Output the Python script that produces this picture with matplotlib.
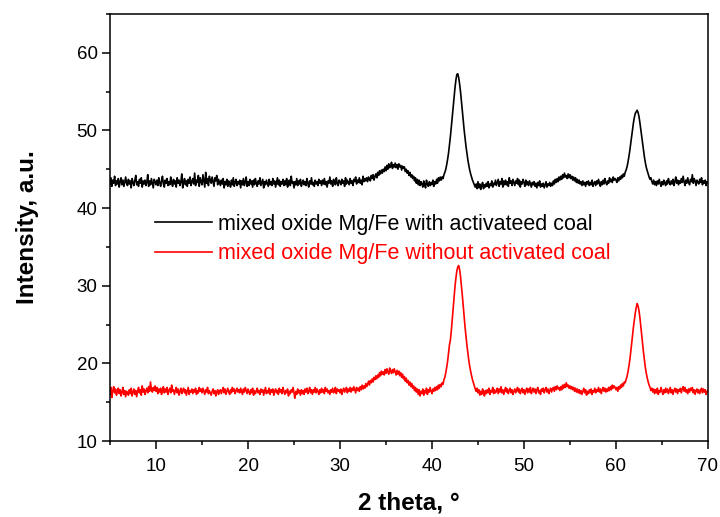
import numpy as np
import matplotlib
matplotlib.use("Agg")
import matplotlib.pyplot as plt
from matplotlib.ticker import MultipleLocator

plt.rcParams['font.family'] = ['Liberation Sans', 'DejaVu Sans']

# XRD scan grid: 5 to 70 degrees 2-theta, step 0.1
scan_start = 5.0
scan_step = 0.1

# Mg/Fe mixed oxide + activated coal (one row per degree)
with_coal = [
    43.0, 43.9, 42.8, 43.6, 43.2, 44.1, 42.9, 43.5, 43.1, 43.8,
    42.7, 43.4, 43.9, 43.0, 43.6, 42.8, 43.3, 44.0, 43.2, 42.9,
    43.7, 43.1, 43.5, 42.6, 43.8, 43.3, 42.9, 43.6, 44.2, 43.0,
    43.4, 42.8, 43.7, 43.2, 43.9, 42.7, 43.5, 43.1, 43.6, 42.9,
    43.3, 44.3, 42.8, 43.5, 43.0, 43.8, 43.2, 42.6, 43.7, 43.4,
    43.0, 43.6, 42.9, 43.9, 43.3, 42.8, 43.5, 44.1, 43.1, 42.7,
    43.6, 43.2, 43.8, 42.9, 43.4, 43.0, 44.0, 43.3, 42.8, 43.7,
    43.1, 43.5, 42.7, 43.9, 43.2, 43.6, 42.9, 43.4, 44.4, 42.6,
    43.3, 43.8, 43.0, 43.5, 42.8, 43.7, 43.2, 44.0, 42.9, 43.4,
    43.8, 43.1, 44.5, 42.9, 43.6, 43.3, 44.2, 42.8, 43.9, 43.4,
    43.0, 44.3, 43.5, 42.7, 44.6, 43.2, 43.8, 42.9, 44.1, 43.6,
    43.2, 44.0, 43.4, 42.8, 43.9, 43.5, 44.2, 43.0, 43.7, 43.3,
    42.9, 43.6, 43.1, 43.8, 42.6, 43.4, 43.0, 43.7, 42.8, 43.5,
    43.2, 42.7, 43.6, 43.0, 43.9, 42.8, 43.3, 43.7, 42.9, 43.4,
    43.1, 43.6, 42.6, 43.5, 43.0, 43.8, 42.9, 43.3, 44.0, 42.8,
    43.4, 42.9, 43.7, 43.1, 43.5, 42.7, 43.6, 43.0, 43.8, 43.2,
    42.8, 43.5, 43.1, 43.9, 42.9, 43.3, 43.7, 42.6, 43.4, 43.0,
    43.6, 43.2, 42.8, 43.7, 43.0, 43.4, 42.9, 43.8, 43.1, 43.5,
    42.7, 43.3, 43.9, 43.0, 43.6, 42.8, 43.4, 43.1, 43.7, 42.9,
    43.5, 43.0, 43.8, 42.7, 43.3, 43.6, 42.9, 44.1, 43.2, 43.4,
    42.6, 43.4, 43.0, 43.8, 42.9, 43.5, 43.1, 43.7, 42.8, 43.3,
    43.6, 43.0, 43.4, 42.9, 43.8, 43.2, 42.7, 43.5, 43.1, 43.9,
    43.0, 43.3, 42.8, 43.6, 43.1, 43.4, 42.9, 43.7, 43.2, 43.5,
    42.9, 43.6, 43.1, 43.8, 43.0, 43.4, 42.7, 43.5, 43.2, 44.0,
    43.1, 43.5, 42.8, 43.7, 43.3, 43.0, 43.9, 43.2, 42.9, 43.6,
    43.4, 43.0, 43.7, 43.2, 43.5, 42.8, 43.9, 43.1, 43.6, 43.3,
    43.0, 43.8, 43.2, 43.5, 42.9, 43.7, 43.4, 44.0, 43.1, 43.6,
    43.3, 43.9, 43.2, 43.6, 43.0, 44.1, 43.4, 43.8, 43.5, 43.9,
    43.4, 44.0, 43.7, 43.5, 44.2, 43.8, 44.3, 43.6, 44.1, 44.4,
    43.9, 44.6, 44.2, 44.8, 44.4, 44.9, 44.5, 45.0, 44.7, 45.3,
    44.8, 45.5, 45.0, 45.7, 45.2, 45.4, 45.9, 45.1, 45.6, 45.3,
    45.8, 45.2, 45.6, 45.0, 45.7, 45.3, 45.5, 44.9, 45.4, 45.1,
    45.3, 44.7, 45.0, 44.5, 44.8, 44.2, 44.6, 44.0, 44.3, 43.8,
    44.1, 43.5, 43.9, 43.2, 43.7, 43.0, 43.6, 42.9, 43.4, 43.1,
    42.7, 43.5, 43.0, 42.6, 43.6, 43.1, 42.8, 43.4, 42.9, 43.3,
    43.0, 43.6, 42.8, 43.4, 43.1, 43.7, 43.2, 43.9, 43.5, 44.0,
    43.6, 44.0, 43.8, 44.3, 44.6, 45.0, 45.6, 46.3, 47.1, 48.1,
    49.2, 50.4, 51.7, 53.0, 54.3, 55.5, 56.5, 57.2, 57.3, 56.8,
    56.0, 55.0, 53.8, 52.5, 51.2, 50.0, 48.9, 47.9, 47.0, 46.2,
    45.5, 44.9, 44.4, 44.0, 43.6, 43.3, 43.0, 42.7, 43.1, 42.5,
    43.4, 42.6, 43.1, 42.4, 42.9, 43.3, 42.5, 43.0, 42.7, 43.2,
    42.8, 43.4, 42.6, 43.1, 42.9, 43.5, 42.7, 43.2, 43.0, 43.6,
    42.9, 43.3, 43.7, 42.8, 43.4, 43.1, 43.8, 42.7, 43.5, 43.0,
    43.6, 43.0, 43.4, 42.8, 43.9, 43.2, 43.5, 42.9, 43.7, 43.3,
    42.9, 43.5, 43.2, 43.8, 43.0, 43.6, 42.7, 43.4, 43.1, 43.7,
    43.3, 42.8, 43.6, 43.0, 43.4, 42.9, 43.5, 43.1, 42.7, 43.3,
    43.0, 43.4, 42.8, 43.2, 42.6, 43.3, 42.9, 43.5, 42.7, 43.1,
    42.8, 43.2, 42.6, 43.0, 43.4, 42.7, 43.1, 42.9, 43.3, 42.8,
    43.2, 42.9, 43.5, 43.1, 43.7, 43.3, 43.8, 43.4, 44.0, 43.6,
    44.1, 43.7, 44.3, 43.9, 44.5, 44.0, 44.2, 43.8, 44.4, 43.9,
    44.3, 43.8, 44.1, 43.6, 44.0, 43.5, 43.9, 43.3, 43.7, 43.2,
    43.6, 43.1, 43.4, 42.9, 43.5, 43.0, 43.3, 42.8, 43.4, 43.1,
    43.5, 42.9, 43.3, 43.0, 43.6, 42.8, 43.2, 43.4, 42.9, 43.5,
    43.1, 43.7, 43.2, 42.8, 43.4, 43.0, 43.6, 43.1, 43.8, 43.3,
    43.0, 43.5, 43.2, 43.9, 43.4, 43.7, 43.3, 44.0, 43.6, 43.8,
    43.6, 43.3, 43.9, 43.5, 44.0, 43.7, 44.2, 43.9, 44.4, 44.1,
    44.6, 44.9, 45.3, 45.9, 46.6, 47.4, 48.3, 49.3, 50.2, 51.0,
    51.7, 52.2, 52.4, 52.6, 52.3, 51.8, 51.0, 50.1, 49.1, 48.2,
    47.3, 46.5, 45.8, 45.2, 44.8, 44.4, 44.0, 43.7, 43.9, 43.4,
    43.1, 43.6, 43.0, 43.4, 42.9, 43.5, 43.1, 43.7, 43.2, 42.8,
    43.4, 43.0, 43.6, 43.2, 42.9, 43.5, 43.1, 43.8, 43.3, 43.0,
    43.5, 43.1, 43.7, 42.9, 43.4, 44.0, 43.2, 43.6, 43.0, 43.5,
    43.2, 43.8, 43.3, 44.1, 43.4, 42.9, 43.6, 43.2, 43.9, 43.3,
    43.0, 43.7, 43.4, 44.3, 43.2, 43.8, 43.5, 42.9, 43.6, 43.3,
    43.1, 43.7, 43.3, 43.9, 43.0, 43.5, 43.2, 43.6, 42.9, 43.4,
    43.3,
]

# Mg/Fe mixed oxide alone
without_coal = [
    16.0, 16.9, 15.6, 16.5, 17.0, 16.2, 16.7, 15.9, 16.4, 16.8,
    16.1, 16.6, 15.8, 16.3, 16.9, 16.0, 16.5, 15.7, 16.4, 16.2,
    15.9, 16.6, 16.1, 16.8, 15.8, 16.3, 16.7, 16.0, 16.5, 15.7,
    16.4, 16.9, 16.2, 16.6, 15.9, 17.1, 16.3, 16.7, 16.0, 16.5,
    16.8, 16.2, 17.0, 16.4, 17.6, 16.6, 16.3, 16.9, 16.5, 17.1,
    16.4, 16.9, 16.1, 16.7, 16.3, 16.8, 16.0, 16.6, 17.0, 16.2,
    16.7, 16.3, 16.9, 16.0, 16.5, 16.8, 16.2, 17.2, 16.4, 16.6,
    16.0, 16.5, 16.9, 16.2, 16.7, 15.9, 16.4, 16.8, 16.1, 16.5,
    16.8, 16.2, 16.6, 15.9, 16.4, 16.9, 16.0, 16.5, 16.3, 16.7,
    16.1, 16.6, 16.3, 16.8, 16.0, 16.5, 16.2, 16.9, 16.4, 16.7,
    16.2, 16.8, 16.4, 16.0, 16.6, 16.3, 16.9, 16.1, 16.5, 16.2,
    15.9, 16.4, 16.7, 16.1, 16.5, 15.8, 16.3, 16.6, 16.0, 16.4,
    16.6, 16.1, 16.5, 16.9, 16.2, 16.7, 16.0, 16.4, 16.8, 16.3,
    16.0, 16.6, 16.2, 16.9, 16.4, 16.7, 16.1, 16.5, 16.8, 16.3,
    16.6, 16.2, 16.8, 16.4, 16.0, 16.7, 16.3, 16.9, 16.5, 16.1,
    16.7, 16.3, 16.0, 16.6, 16.2, 16.8, 15.9, 16.5, 16.1, 16.4,
    16.8, 16.2, 16.5, 16.0, 16.7, 16.3, 16.6, 15.9, 16.4, 16.9,
    16.1, 16.5, 16.2, 16.8, 16.0, 16.6, 16.3, 16.7, 15.9, 16.4,
    16.7, 16.2, 16.5, 16.0, 16.8, 16.3, 16.6, 16.1, 16.9, 16.4,
    16.0, 16.5, 16.2, 16.7, 15.8, 16.4, 16.1, 16.6, 16.3, 16.9,
    16.2, 15.5, 16.4, 16.0, 16.7, 16.2, 16.5, 15.9, 16.6, 16.1,
    16.5, 16.0, 16.7, 16.3, 16.8, 16.1, 16.4, 16.9, 16.2, 16.6,
    16.0, 16.6, 16.3, 16.9, 16.2, 16.7, 16.4, 16.0, 16.6, 16.2,
    16.8, 16.3, 16.6, 16.1, 16.9, 16.4, 16.7, 16.2, 16.5, 16.0,
    16.6, 16.3, 16.8, 16.2, 16.5, 16.9, 16.1, 16.7, 16.4, 16.6,
    16.2, 16.7, 16.0, 16.5, 16.8, 16.3, 16.6, 16.9, 16.2, 16.7,
    16.4, 16.9, 16.3, 16.8, 16.5, 17.0, 16.6, 16.2, 16.9, 16.5,
    16.8, 16.4, 17.0, 16.6, 17.2, 16.7, 17.1, 16.8, 17.4, 17.0,
    17.3, 17.7, 17.2, 17.8, 17.5, 18.0, 17.6, 18.2, 17.9, 18.4,
    18.0, 18.5, 18.2, 18.8, 18.4, 19.0, 18.6, 18.9, 18.5, 19.2,
    18.7, 19.3, 18.9, 18.6, 19.4, 19.0, 18.7, 19.2, 18.8, 19.3,
    18.9, 18.5, 19.1, 18.6, 19.0, 18.4, 18.8, 18.2, 18.6, 18.0,
    18.3, 17.7, 18.1, 17.5, 17.8, 17.2, 17.6, 17.0, 17.4, 16.8,
    17.1, 16.5, 16.9, 16.3, 16.7, 16.0, 16.6, 15.8, 16.4, 16.1,
    16.7, 15.9, 16.5, 16.2, 16.8, 16.0, 16.6, 16.3, 16.9, 16.4,
    16.1, 16.7, 16.4, 16.9, 16.5, 17.0, 16.6, 17.2, 16.8, 17.3,
    17.0, 17.5, 17.3, 17.9, 18.2, 18.8, 19.5, 20.3, 21.3, 22.4,
    23.0, 24.2, 25.6, 27.0, 28.5, 29.9, 31.0, 31.9, 32.4, 32.6,
    32.1, 31.2, 30.0, 28.7, 27.3, 25.9, 24.6, 23.4, 22.3, 21.3,
    20.4, 19.6, 19.0, 18.4, 17.9, 17.5, 17.1, 16.7, 16.4, 16.8,
    16.2, 16.6, 15.9, 16.4, 16.0, 16.7, 16.3, 15.8, 16.5, 16.1,
    16.6, 16.2, 16.8, 16.0, 16.5, 16.3, 16.9, 16.1, 16.6, 16.2,
    16.4, 16.8, 16.1, 16.7, 16.3, 17.0, 16.2, 16.6, 16.0, 16.5,
    16.9, 16.3, 16.7, 16.1, 16.5, 16.8, 16.2, 16.6, 16.0, 16.4,
    16.7, 16.2, 16.6, 16.9, 16.3, 16.7, 16.1, 16.5, 16.8, 16.2,
    16.6, 16.0, 16.5, 16.8, 16.2, 16.7, 16.3, 16.9, 16.1, 16.5,
    16.8, 16.3, 16.7, 16.1, 16.6, 16.9, 16.2, 16.5, 16.0, 16.7,
    16.4, 16.8, 16.2, 16.6, 16.9, 16.3, 16.7, 16.1, 16.5, 16.8,
    16.3, 16.7, 16.9, 16.4, 17.0, 16.6, 17.1, 16.7, 16.9, 16.5,
    17.0, 16.6, 17.2, 16.8, 17.3, 16.9, 17.5, 17.0, 17.2, 16.8,
    17.1, 16.7, 17.0, 16.6, 16.9, 16.4, 16.8, 16.3, 16.7, 16.2,
    16.6, 16.1, 16.5, 16.0, 16.4, 16.8, 16.2, 16.6, 15.9, 16.4,
    16.1, 16.6, 16.2, 16.7, 16.0, 16.5, 16.3, 16.8, 16.2, 16.6,
    16.4, 16.9, 16.3, 16.7, 16.1, 16.6, 16.9, 16.4, 16.8, 16.3,
    16.7, 16.4, 16.9, 16.5, 17.0, 16.6, 17.2, 16.8, 17.1, 16.9,
    16.6, 16.9, 16.4, 17.0, 16.7, 17.2, 16.9, 17.4, 17.1, 17.6,
    17.5, 17.9, 18.3, 18.9, 19.6, 20.4, 21.4, 22.5, 23.6, 24.7,
    25.6, 26.5, 27.2, 27.7, 27.4, 26.8, 25.9, 24.8, 23.6, 22.4,
    21.3, 20.3, 19.4, 18.7, 18.1, 17.6, 17.2, 16.9, 16.5, 16.8,
    16.3, 16.7, 16.1, 16.6, 16.2, 16.8, 16.0, 16.5, 16.3, 16.9,
    16.4, 16.0, 16.6, 16.2, 16.8, 16.3, 16.7, 16.1, 16.5, 16.9,
    16.2, 16.6, 16.0, 16.5, 16.8, 16.3, 16.7, 16.1, 16.6, 16.4,
    16.8, 16.2, 16.7, 17.0, 16.4, 16.9, 16.3, 16.6, 16.1, 16.7,
    16.3, 16.8, 16.5, 16.9, 16.2, 16.6, 16.0, 16.5, 16.7, 16.2,
    16.6, 16.1, 16.5, 16.8, 16.2, 16.7, 16.3, 16.6, 16.0, 16.4,
    16.5,
]

labels = ["mixed oxide Mg/Fe with activateed coal",
          "mixed oxide Mg/Fe without activated coal"]
colors = ["black", "#ff0000"]

two_theta = scan_start + scan_step * np.arange(len(with_coal))

fig = plt.figure(figsize=(7.2, 5.17), dpi=100)
ax = fig.add_axes([0.1528, 0.147, 0.8305, 0.826])

ax.plot(two_theta, with_coal, color=colors[0], linewidth=1.2, label=labels[0])
ax.plot(two_theta, without_coal, color=colors[1], linewidth=1.2, label=labels[1])

ax.set_xlim(5, 70)
ax.set_ylim(10, 65)
ax.xaxis.set_major_locator(MultipleLocator(10))
ax.xaxis.set_minor_locator(MultipleLocator(5))
ax.yaxis.set_major_locator(MultipleLocator(10))
ax.yaxis.set_minor_locator(MultipleLocator(5))

ax.tick_params(which='both', direction='out', width=1.1, top=False, right=False)
ax.tick_params(which='major', length=6, labelsize=13.5)
ax.tick_params(axis='x', which='major', pad=6)
ax.tick_params(axis='y', which='major', pad=3)
ax.tick_params(which='minor', length=3)
for sp in ax.spines.values():
    sp.set_linewidth(1.1)

ax.set_xlabel("2 theta, \u00b0", fontsize=17.5, fontweight='bold', labelpad=12)
ax.set_ylabel("Intensity, a.u.", fontsize=17.5, fontweight='bold', labelpad=27)

ax.legend(loc='upper left', bbox_to_anchor=(0.2153, 0.5864), bbox_transform=fig.transFigure,
          frameon=False, fontsize=15.5, labelcolor='linecolor', borderpad=0,
          borderaxespad=0, handlelength=2.65, handletextpad=0.28, labelspacing=0.4)

fig.savefig("out.png", dpi=100)
